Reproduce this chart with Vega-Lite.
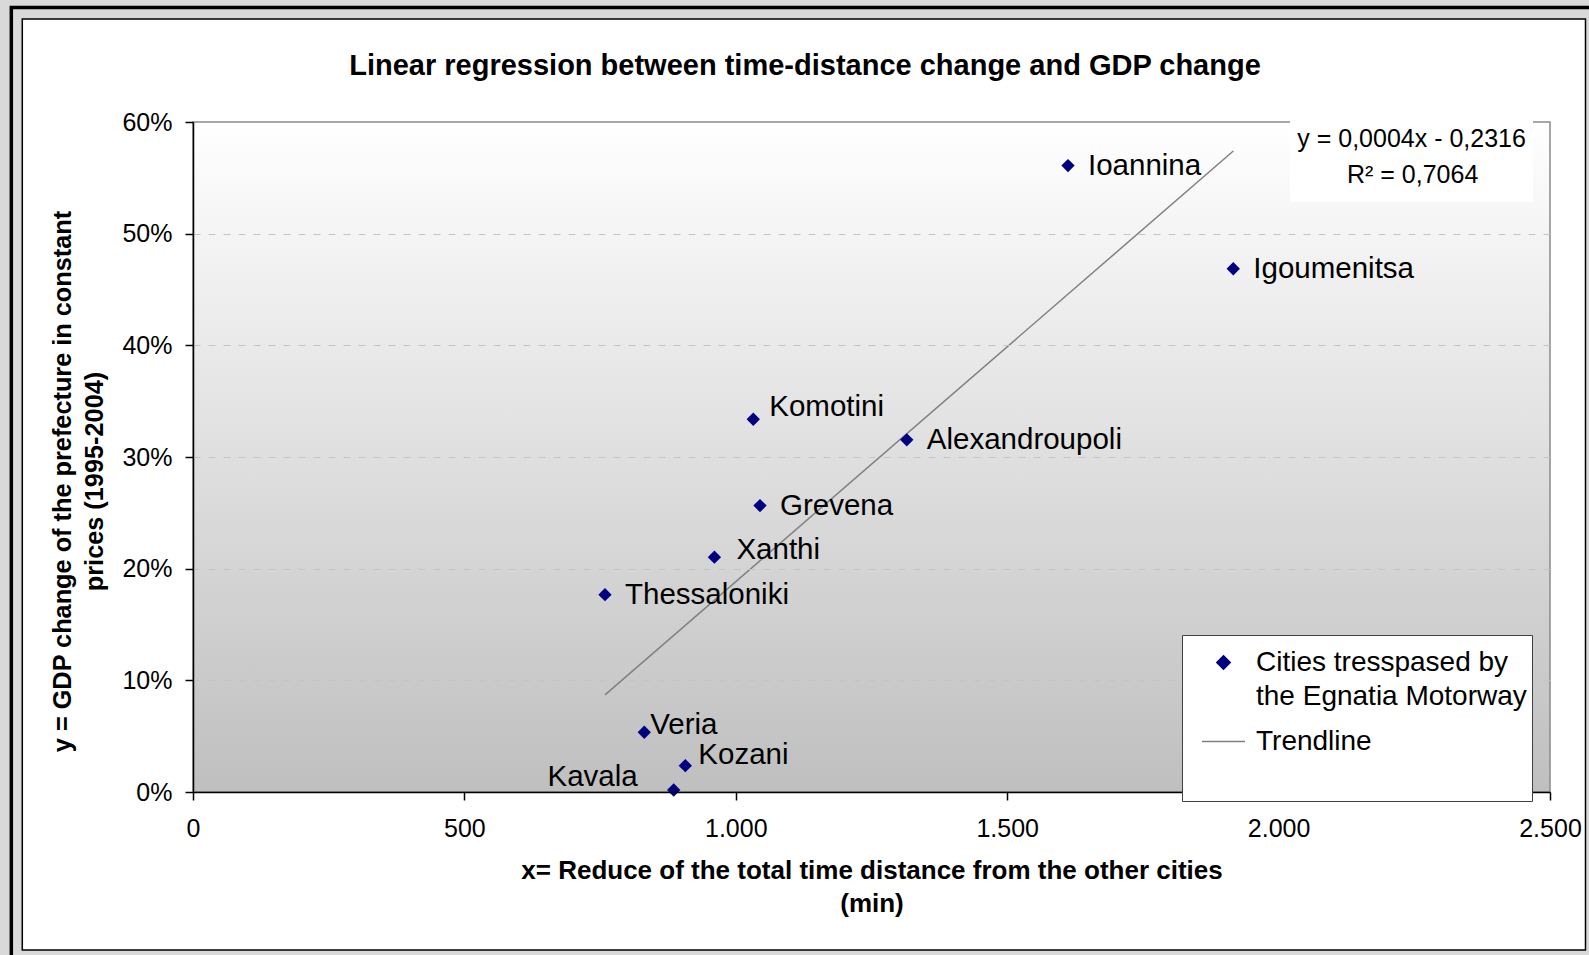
{
  "$schema": "https://vega.github.io/schema/vega-lite/v6.json",
  "width": 1357,
  "height": 670,
  "autosize": {"type": "none"},
  "padding": {"left": 193, "top": 122, "right": 39, "bottom": 163},
  "background": "#d9d9d9",
  "title": {
    "text": "Linear regression between time-distance change and GDP change",
    "fontSize": 29,
    "fontWeight": "bold",
    "font": "Liberation Sans",
    "color": "black",
    "frame": "group",
    "anchor": "middle",
    "dx": -66.5,
    "baseline": "alphabetic",
    "offset": 0,
    "dy": 98.4
  },
  "encoding": {
    "x": {
      "field": "x",
      "type": "quantitative",
      "scale": {"domain": [0, 2500], "nice": false, "zero": false},
      "axis": {
        "values": [0, 500, 1000, 1500, 2000, 2500],
        "labelExpr": "replace(format(datum.value, ','), ',', '.')",
        "labelFontSize": 25,
        "labelColor": "black",
        "labelPadding": 16,
        "labelFlush": false,
        "labelOverlap": false,
        "tickSize": 8,
        "tickColor": "black",
        "tickWidth": 1.5,
        "domainColor": "black",
        "domainWidth": 1.5,
        "grid": false,
        "title": ["x= Reduce of the total time distance from the other cities", "(min)"],
        "titleFontSize": 26,
        "titleFontWeight": "bold",
        "titleColor": "black",
        "titleX": 678.5,
        "titleY": 86.5,
        "titleAlign": "center",
        "titleBaseline": "alphabetic",
        "titleLineHeight": 32.5,
        "zindex": 1
      }
    },
    "y": {
      "field": "y",
      "type": "quantitative",
      "scale": {"domain": [0, 0.6], "nice": false, "zero": false},
      "axis": {
        "values": [0, 0.1, 0.2, 0.3, 0.4, 0.5, 0.6],
        "format": ".0%",
        "labelFontSize": 25,
        "labelColor": "black",
        "labelPadding": 13,
        "tickSize": 8,
        "tickColor": "black",
        "tickWidth": 1.5,
        "domainColor": "black",
        "domainWidth": 1.5,
        "grid": true,
        "gridColor": {"condition": {"test": "datum.value >= 0.59 || datum.value <= 0.01", "value": "transparent"}, "value": "#c4c4c4"},
        "gridDash": [7, 8],
        "gridWidth": 1,
        "title": ["y = GDP change of the prefecture in constant", "prices  (1995-2004)"],
        "titleFontSize": 25.3,
        "titleFontWeight": "bold",
        "titleColor": "black",
        "titleAngle": -90,
        "titleX": -123,
        "titleY": 359,
        "titleAlign": "center",
        "titleBaseline": "alphabetic",
        "titleLineHeight": 32,
        "zindex": 1
      }
    }
  },
  "layer": [
    {
      "data": {"values": [{"x": -334.7, "x2": 2592, "y": 0.7025, "y2": -0.1594}]},
      "mark": {"type": "rect", "fill": "transparent", "stroke": "black", "strokeWidth": 3.5},
      "encoding": {"x2": {"field": "x2"}, "y2": {"field": "y2"}}
    },
    {
      "data": {"values": [{"x": -314.5, "x2": 2565.4, "y": 0.6922, "y2": -0.1415}]},
      "mark": {"type": "rect", "fill": "white", "stroke": "black", "strokeWidth": 1.5},
      "encoding": {"x2": {"field": "x2"}, "y2": {"field": "y2"}}
    },
    {
      "data": {"values": [{"x": 0, "x2": 2500, "y": 0, "y2": 0.6}]},
      "mark": {
        "type": "rect",
        "stroke": "#8a8a8a",
        "strokeWidth": 1.5,
        "color": {
          "gradient": "linear",
          "x1": 0, "y1": 0, "x2": 0, "y2": 1,
          "stops": [{"offset": 0, "color": "#ffffff"}, {"offset": 1, "color": "#bfbfbf"}]
        }
      },
      "encoding": {"x2": {"field": "x2"}, "y2": {"field": "y2"}}
    },
    {
      "data": {"values": [{"x": 2021, "x2": 2468.7, "y": 0.5283, "y2": 0.603}]},
      "mark": {"type": "rect", "fill": "white", "strokeWidth": 0},
      "encoding": {"x2": {"field": "x2"}, "y2": {"field": "y2"}}
    },
    {
      "data": {"values": [
        {"x": 759, "y": 0.087, "series": "Trendline"},
        {"x": 1916.6, "y": 0.574, "series": "Trendline"}
      ]},
      "mark": {"type": "line", "strokeWidth": 1.5},
      "encoding": {
        "color": {
          "field": "series",
          "type": "nominal",
          "scale": {"domain": ["Cities tresspased by the Egnatia Motorway", "Trendline"], "range": ["#000080", "#808080"]},
          "legend": {
            "orient": "none",
            "legendX": 989,
            "legendY": 513,
            "zindex": 3,
            "title": null,
            "fillColor": "white",
            "strokeColor": "#404040",
            "padding": 5,
            "symbolOffset": 14,
            "labelOffset": 10,
            "labelFontSize": 28,
            "labelColor": "black",
            "labelLimit": 0,
            "symbolSize": 1849,
            "rowPadding": 8,
            "labelExpr": "datum.label == 'Trendline' ? ['Trendline', ''] : ['Cities tresspased by', 'the Egnatia Motorway']",
            "encode": {
              "symbols": {"update": {
                "fill": {"scale": "color", "field": "value"},
                "stroke": {"scale": "color", "field": "value"},
                "strokeWidth": {"value": 1.5},
                "opacity": {"value": 1}
              }},
              "labels": {"update": {
                "baseline": {"value": "top"},
                "dy": {"value": -14},
                "lineHeight": {"signal": "datum.label == 'Trendline' ? 40 : 34"}
              }}
            }
          }
        }
      }
    },
    {
      "data": {"name": "cities", "values": [
        {"city": "Ioannina", "x": 1612, "y": 0.561, "series": "Cities tresspased by the Egnatia Motorway"},
        {"city": "Igoumenitsa", "x": 1916.5, "y": 0.4686, "series": "Cities tresspased by the Egnatia Motorway"},
        {"city": "Komotini", "x": 1032.2, "y": 0.3338, "series": "Cities tresspased by the Egnatia Motorway"},
        {"city": "Alexandroupoli", "x": 1315, "y": 0.3154, "series": "Cities tresspased by the Egnatia Motorway"},
        {"city": "Grevena", "x": 1044.6, "y": 0.2565, "series": "Cities tresspased by the Egnatia Motorway"},
        {"city": "Xanthi", "x": 960.6, "y": 0.2103, "series": "Cities tresspased by the Egnatia Motorway"},
        {"city": "Thessaloniki", "x": 759, "y": 0.1767, "series": "Cities tresspased by the Egnatia Motorway"},
        {"city": "Veria", "x": 831.4, "y": 0.0535, "series": "Cities tresspased by the Egnatia Motorway"},
        {"city": "Kozani", "x": 907, "y": 0.0236, "series": "Cities tresspased by the Egnatia Motorway"},
        {"city": "Kavala", "x": 885.6, "y": 0.0018, "series": "Cities tresspased by the Egnatia Motorway"}
      ]},
      "layer": [
        {
          "mark": {"type": "point", "filled": true, "size": 1849, "opacity": 1, "strokeWidth": 0},
          "encoding": {
            "color": {"field": "series", "type": "nominal"},
            "shape": {
              "field": "series",
              "type": "nominal",
              "scale": {"domain": ["Cities tresspased by the Egnatia Motorway", "Trendline"], "range": ["M0,-0.31L0.31,0L0,0.31L-0.31,0Z", "M-1,0L1,0"]}
            }
          }
        },
        {
          "transform": [{"filter": {"field": "city", "oneOf": ["Ioannina", "Igoumenitsa", "Alexandroupoli", "Grevena", "Thessaloniki"]}}],
          "mark": {"type": "text", "align": "left", "baseline": "middle", "dx": 20, "dy": 0, "fontSize": 29.5, "color": "black"},
          "encoding": {"text": {"field": "city"}}
        },
        {
          "transform": [{"filter": {"field": "city", "equal": "Komotini"}}],
          "mark": {"type": "text", "align": "left", "baseline": "middle", "dx": 16, "dy": -12, "fontSize": 29.5, "color": "black"},
          "encoding": {"text": {"field": "city"}}
        },
        {
          "transform": [{"filter": {"field": "city", "equal": "Xanthi"}}],
          "mark": {"type": "text", "align": "left", "baseline": "middle", "dx": 22, "dy": -7, "fontSize": 29.5, "color": "black"},
          "encoding": {"text": {"field": "city"}}
        },
        {
          "transform": [{"filter": {"field": "city", "equal": "Veria"}}],
          "mark": {"type": "text", "align": "left", "baseline": "middle", "dx": 6, "dy": -7, "fontSize": 29.5, "color": "black"},
          "encoding": {"text": {"field": "city"}}
        },
        {
          "transform": [{"filter": {"field": "city", "equal": "Kozani"}}],
          "mark": {"type": "text", "align": "left", "baseline": "middle", "dx": 13, "dy": -11, "fontSize": 29.5, "color": "black"},
          "encoding": {"text": {"field": "city"}}
        },
        {
          "transform": [{"filter": {"field": "city", "equal": "Kavala"}}],
          "mark": {"type": "text", "align": "right", "baseline": "middle", "dx": -36, "dy": -13, "fontSize": 29.5, "color": "black"},
          "encoding": {"text": {"field": "city"}}
        }
      ]
    },
    {
      "data": {"values": [
        {"x": 2245, "y": 0.5848, "label": "y = 0,0004x - 0,2316"},
        {"x": 2247, "y": 0.5525, "label": "R² = 0,7064"}
      ]},
      "mark": {"type": "text", "align": "center", "baseline": "middle", "fontSize": 25, "color": "black"},
      "encoding": {"text": {"field": "label"}}
    }
  ],
  "config": {
    "font": "Liberation Sans",
    "view": {"stroke": null},
    "axis": {"labelFont": "Liberation Sans", "titleFont": "Liberation Sans"},
    "legend": {"labelFont": "Liberation Sans"}
  }
}
